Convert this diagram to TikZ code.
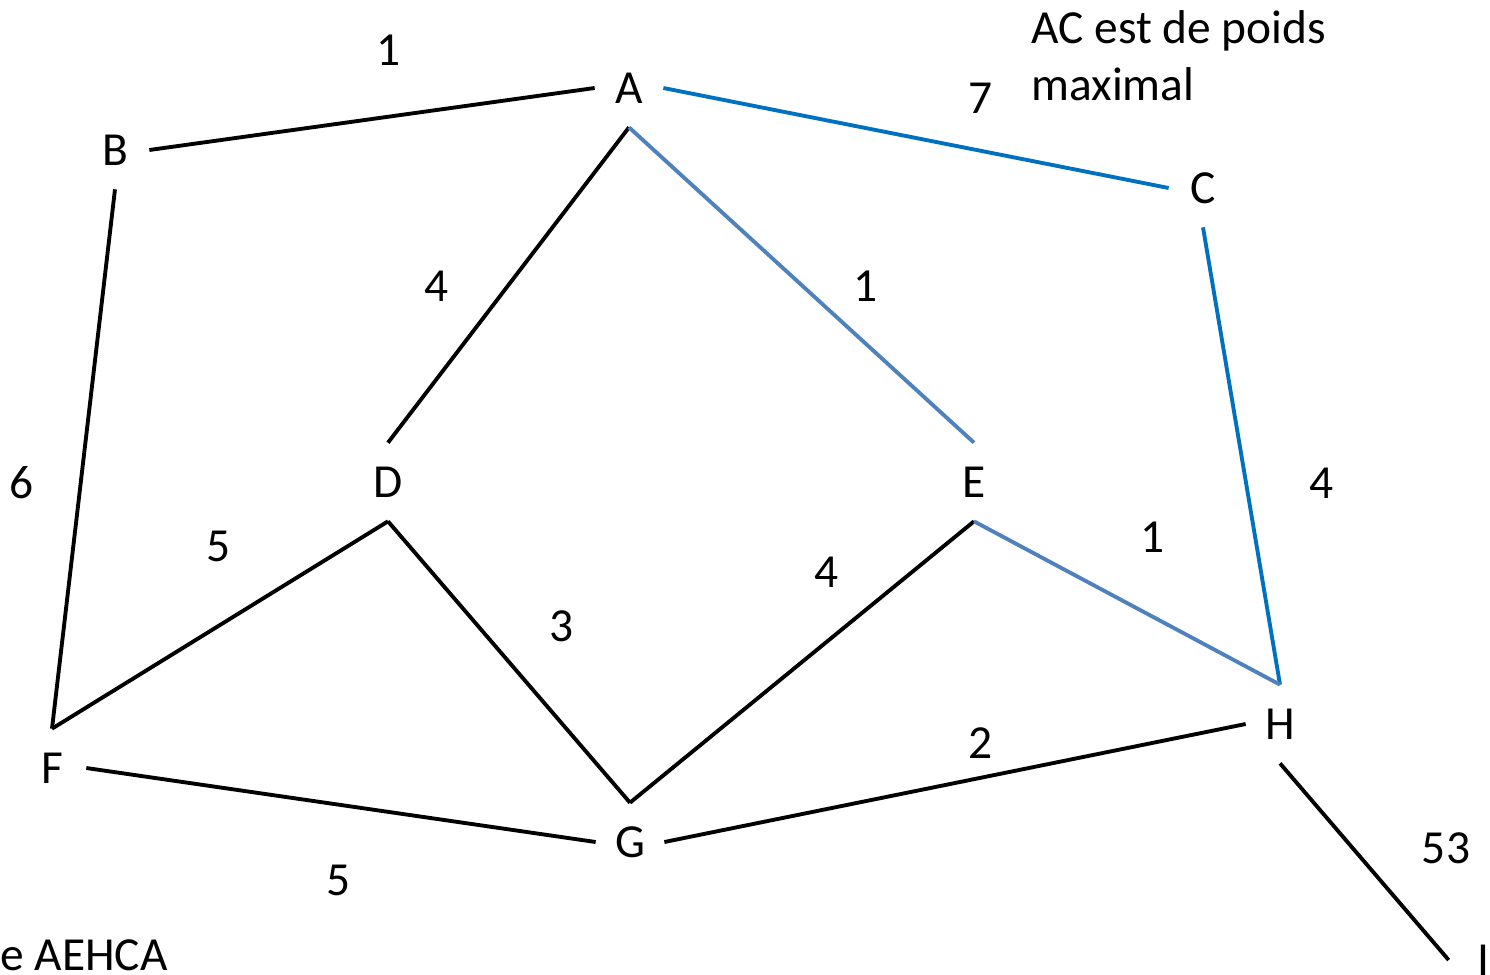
\documentclass[tikz,border=0pt]{standalone}
\usepackage{fontspec}
\setmainfont{Carlito}
\usepackage{xcolor}
\definecolor{acblue}{RGB}{0,112,192}
\definecolor{cycblue}{RGB}{79,129,189}
\usetikzlibrary{positioning}

\tikzset{
  vertex/.style={inner sep=0pt, minimum width=1.36cm, minimum height=1.56cm},
  weight/.style={inner sep=0pt},
  edge/.style={line width=2.2pt},
}

\begin{document}
\begin{tikzpicture}[x=0.02cm, y=-0.02cm, font=\fontsize{27}{32.3}\selectfont]
    \useasboundingbox (0,0) rectangle (1490,974);

    % Vertices
    \node[vertex] (A) at (629, 88) {A};
    \node[vertex] (B) at (115, 150) {B};
    \node[vertex] (C) at (1203, 188) {C};
    \node[vertex] (D) at (388, 482) {D};
    \node[vertex] (E) at (974, 482) {E};
    \node[vertex] (F) at (52, 768) {F};
    \node[vertex] (G) at (630, 842) {G};
    \node[vertex] (H) at (1280, 724) {H};
    \node[vertex] (I) at (1483, 960) {I};

    % Edges
    \draw[edge] (B.east) -- (A.west);
    \draw[edge, acblue] (A.east) -- (C.west);
    \draw[edge] (A.south) -- (D.north);
    \draw[edge, cycblue] (A.south) -- (E.north);
    \draw[edge] (B.south) -- (F.north);
    \draw[edge, acblue] (C.south) -- (H.north);
    \draw[edge] (D.south) -- (F.north);
    \draw[edge] (D.south) -- (G.north);
    \draw[edge] (E.south) -- (G.north);
    \draw[edge, cycblue] (E.south) -- (H.north);
    \draw[edge] (F.east) -- (G.west);
    \draw[edge] (G.east) -- (H.west);
    \draw[edge] (H.south) -- (I.west);

    % Weights
    \node[weight] (wab) at (389, 50) {1};
    \node[weight] (wac) at (981, 98) {7};
    \node[weight] (wad) at (437, 286) {4};
    \node[weight] (wae) at (866, 286) {1};
    \node[weight] (wbf) at (22, 483) {6};
    \node[weight] (wdf) at (219, 546) {5};
    \node[weight] (wdg) at (562, 626) {3};
    \node[weight] (weg) at (827, 572) {4};
    \node[weight] (weh) at (1153, 537) {1};
    \node[weight] (wch) at (1322, 483) {4};
    \node[weight] (wgh) at (981, 743) {2};
    \node[weight] (wfg) at (339, 880) {5};
    \node[weight] (whi) at (1446, 848) {53};

    % Notes
    \node[weight, anchor=base west, align=left] (note) at (1031, 100) {AC est de poids\\maximal};
    \node[weight, anchor=base west] (cycle) at (0, 970) {e AEHCA};
\end{tikzpicture}
\end{document}
